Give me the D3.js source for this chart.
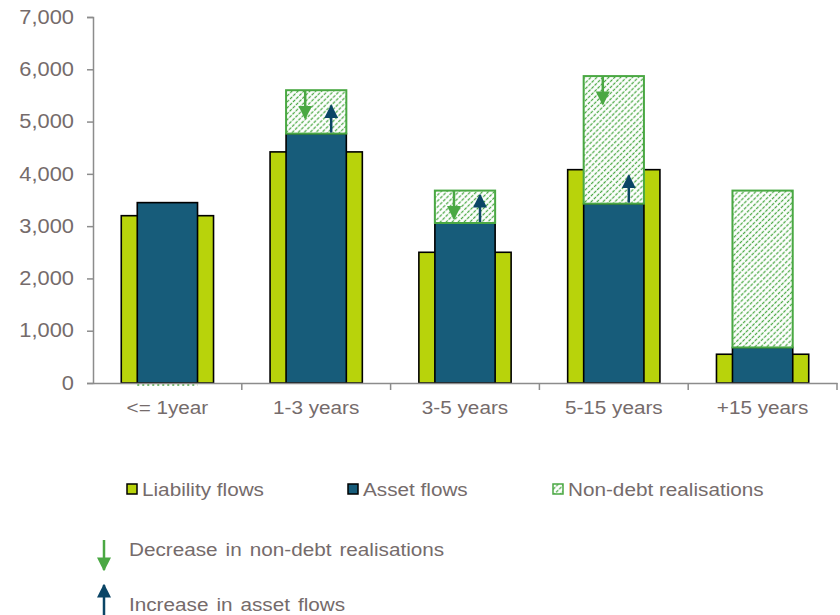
<!DOCTYPE html>
<html>
<head>
<meta charset="utf-8">
<script src="https://cdn.jsdelivr.net/npm/d3@7"></script>
<style>
  html, body { margin: 0; padding: 0; background: #fff; }
  svg text { font-family: "Liberation Sans", Arial, sans-serif; fill: #756b6b; }
</style>
</head>
<body>
<svg id="chart" width="840" height="615"></svg>
<script>
// Maturity buckets and flow amounts
const categories = ["<= 1year", "1-3 years", "3-5 years", "5-15 years", "+15 years"];
const liabilityFlows = [3200, 4420, 2500, 4080, 550];
const assetFlows = [3450, 4770, 3060, 3430, 680];
const nonDebtRealisations = [0, 830, 620, 2440, 3000];
const showShiftArrows = [false, true, true, true, false];
const yTicks = [0, 1000, 2000, 3000, 4000, 5000, 6000, 7000];
const legendLabels = ["Liability flows", "Asset flows", "Non-debt realisations"];
const arrowLabels = ["Decrease in non-debt realisations", "Increase in asset flows"];

const colLiab = "#b8d30b";
const colAsset = "#175c7a";
const colGreen = "#4aa843";
const colArrowBlue = "#0b4566";
const colAxis = "#8c8c8c";
const textStretch = 1.12;   // slightly wide lettering

const svg = d3.select("#chart");
const plotLeft = 93, plotRight = 837, plotTop = 17, plotBottom = 383;

const x = d3.scaleBand().domain(categories).range([plotLeft, plotRight]).paddingInner(0).paddingOuter(0);
const y = d3.scaleLinear().domain([0, 7000]).range([plotBottom, plotTop]);

// Hatch pattern for non-debt realisations: dashed upward diagonals
const defs = svg.append("defs");
const hatchW = 9, hatchH = 4.2;
const pat = defs.append("pattern")
  .attr("id", "hatch")
  .attr("patternUnits", "userSpaceOnUse")
  .attr("width", hatchW).attr("height", hatchH)
  .attr("patternTransform", "rotate(-45)");
pat.append("rect").attr("width", hatchW).attr("height", hatchH).attr("fill", "#fff");
pat.append("line")
  .attr("x1", 0).attr("y1", hatchH / 2).attr("x2", hatchW).attr("y2", hatchH / 2)
  .attr("stroke", colGreen).attr("stroke-width", 1.45)
  .attr("stroke-dasharray", "3.2 1.3");

// Arrow markers
function addArrowHead(id, color) {
  defs.append("marker")
    .attr("id", id)
    .attr("viewBox", "0 0 10 10")
    .attr("refX", 9).attr("refY", 5)
    .attr("markerUnits", "userSpaceOnUse")
    .attr("markerWidth", 14).attr("markerHeight", 14)
    .attr("orient", "auto")
    .append("path").attr("d", "M0,0 L10,5 L0,10 Z").attr("fill", color);
}
addArrowHead("headGreen", colGreen);
addArrowHead("headBlue", colArrowBlue);

const data = categories.map((c, i) => ({
  cat: c,
  liab: liabilityFlows[i],
  asset: assetFlows[i],
  nonDebt: nonDebtRealisations[i],
  arrows: showShiftArrows[i]
}));

const bw = x.bandwidth();
const liabW = bw * 0.62;
const assetW = bw * 0.405;
const cx = d => x(d.cat) + bw / 2;

// Y axis
const yAxis = d3.axisLeft(y).tickValues(yTicks).tickSize(6).tickPadding(11)
  .tickFormat(d3.format(","));
const gy = svg.append("g").attr("transform", `translate(${plotLeft},0)`).call(yAxis);
gy.select(".domain").attr("stroke", colAxis).attr("stroke-width", 1.5);
gy.selectAll(".tick line").attr("stroke", colAxis).attr("stroke-width", 1.5);
gy.selectAll(".tick text").attr("font-size", 19.5).attr("fill", "#756b6b")
  .attr("transform", `scale(${textStretch},1)`)
  .style("font-family", "'Liberation Sans', Arial, sans-serif");

// Liability bars (behind)
svg.append("g").selectAll("rect").data(data).join("rect")
  .attr("x", d => cx(d) - liabW / 2)
  .attr("width", liabW)
  .attr("y", d => y(d.liab))
  .attr("height", d => y(0) - y(d.liab))
  .attr("fill", colLiab).attr("stroke", "#000").attr("stroke-width", 1.6);

// Asset bars
svg.append("g").selectAll("rect").data(data).join("rect")
  .attr("x", d => cx(d) - assetW / 2)
  .attr("width", assetW)
  .attr("y", d => y(d.asset))
  .attr("height", d => y(0) - y(d.asset))
  .attr("fill", colAsset).attr("stroke", "#000").attr("stroke-width", 1.6);

// Non-debt realisations stacked on asset flows
svg.append("g").selectAll("rect").data(data.filter(d => d.nonDebt > 0)).join("rect")
  .attr("x", d => cx(d) - assetW / 2)
  .attr("width", assetW)
  .attr("y", d => y(d.asset + d.nonDebt))
  .attr("height", d => y(d.asset) - y(d.asset + d.nonDebt))
  .attr("fill", "url(#hatch)").attr("stroke", colGreen).attr("stroke-width", 2);

// Zero non-debt realisations shown as a dotted baseline
svg.append("g").selectAll("line").data(data.filter(d => d.nonDebt === 0)).join("line")
  .attr("x1", d => cx(d) - assetW / 2).attr("x2", d => cx(d) + assetW / 2)
  .attr("y1", y(0) + 2).attr("y2", y(0) + 2)
  .attr("stroke", colGreen).attr("stroke-width", 1.5).attr("stroke-dasharray", "2 3");

// X axis
const xAxis = d3.axisBottom(x).tickSize(0).tickPadding(18);
const gx = svg.append("g").attr("transform", `translate(0,${plotBottom})`).call(xAxis);
gx.select(".domain").attr("stroke", colAxis).attr("stroke-width", 1.5);
gx.selectAll(".tick text").attr("font-size", 18.5).attr("fill", "#756b6b")
  .attr("transform", `scale(${textStretch},1)`)
  .style("font-family", "'Liberation Sans', Arial, sans-serif");
// boundary ticks between categories
gx.append("g").selectAll("line").data(categories).join("line")
  .attr("x1", d => x(d) + bw).attr("x2", d => x(d) + bw)
  .attr("y1", 0).attr("y2", 7)
  .attr("stroke", colAxis).attr("stroke-width", 1.5);

// Shift arrows
const arrowLen = 28;
const arrowData = data.filter(d => d.arrows);
svg.append("g").selectAll("line").data(arrowData).join("line")
  .attr("x1", d => cx(d) - 11).attr("x2", d => cx(d) - 11)
  .attr("y1", d => y(d.asset + d.nonDebt)).attr("y2", d => y(d.asset + d.nonDebt) + arrowLen)
  .attr("stroke", colGreen).attr("stroke-width", 2.5)
  .attr("marker-end", "url(#headGreen)");
svg.append("g").selectAll("line").data(arrowData).join("line")
  .attr("x1", d => cx(d) + 15).attr("x2", d => cx(d) + 15)
  .attr("y1", d => y(d.asset) - 1).attr("y2", d => y(d.asset) - arrowLen)
  .attr("stroke", colArrowBlue).attr("stroke-width", 2.5)
  .attr("marker-end", "url(#headBlue)");

function stretchedText(g, tx, ty, size, str, wordSpacing) {
  const t = g.append("text")
    .attr("transform", `translate(${tx},${ty}) scale(${textStretch},1)`)
    .attr("font-size", size).text(str);
  if (wordSpacing) t.attr("word-spacing", wordSpacing);
  return t;
}

// Legend for series
const legendX = [127, 348, 553];
const lg = svg.append("g");
const legendFill = [colLiab, colAsset, "url(#hatch)"];
const legendStroke = ["#000", "#000", colGreen];
legendLabels.forEach((lab, i) => {
  lg.append("rect").attr("x", legendX[i]).attr("y", 484).attr("width", 10).attr("height", 10)
    .attr("fill", legendFill[i]).attr("stroke", legendStroke[i]).attr("stroke-width", 1.5);
  stretchedText(lg, legendX[i] + 15, 496, 18.5, lab);
});

// Legend for arrows
const al = svg.append("g");
al.append("line").attr("x1", 104).attr("x2", 104).attr("y1", 540).attr("y2", 570)
  .attr("stroke", colGreen).attr("stroke-width", 2.5).attr("marker-end", "url(#headGreen)");
al.append("line").attr("x1", 104).attr("x2", 104).attr("y1", 620).attr("y2", 585)
  .attr("stroke", colArrowBlue).attr("stroke-width", 2.5).attr("marker-end", "url(#headBlue)");
stretchedText(al, 129, 556, 18.5, arrowLabels[0], 2);
stretchedText(al, 129, 611, 18.5, arrowLabels[1], 2);
</script>
</body>
</html>
